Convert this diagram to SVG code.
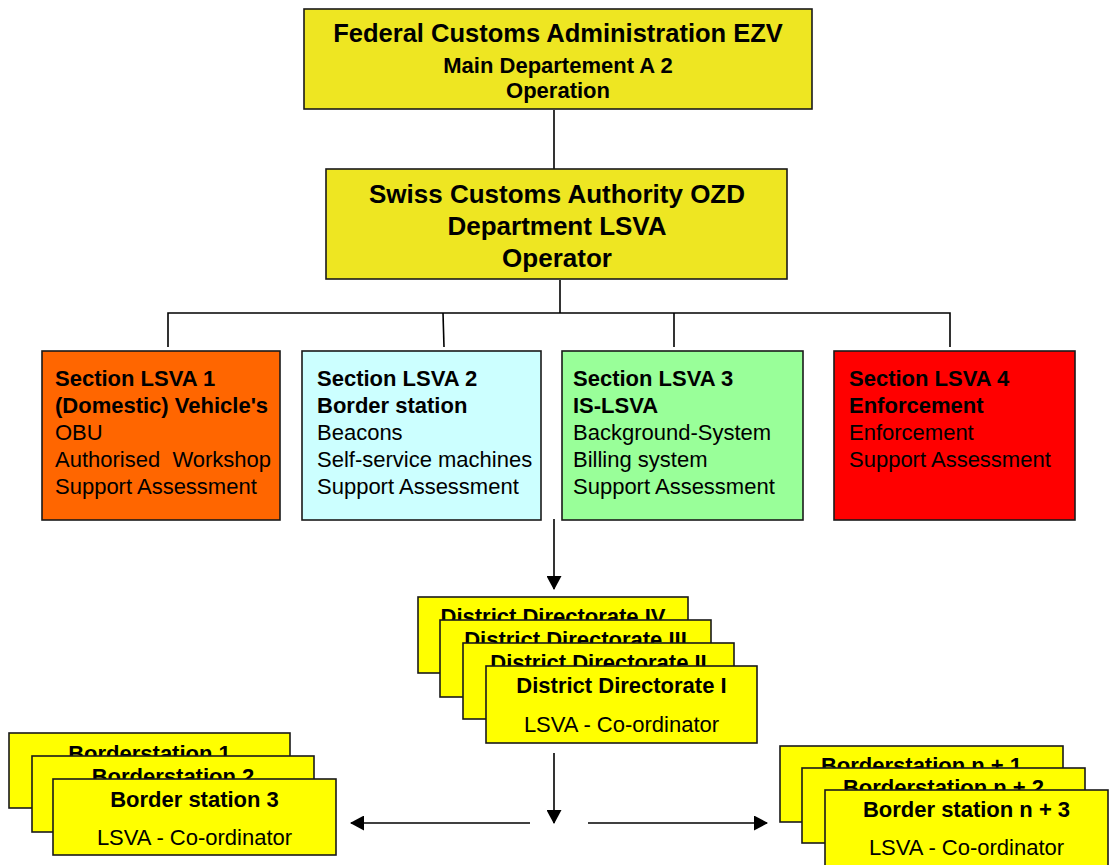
<svg xmlns="http://www.w3.org/2000/svg" width="1109" height="865" viewBox="0 0 1109 865">
<style>
text{font-family:"Liberation Sans",Arial,sans-serif;fill:#000}
.b{font-weight:bold}
.box{stroke:#1a1a1a;stroke-width:1.6}
.olive{fill:#EEE622}
.yel{fill:#FFFF00}
.ln{stroke:#000;stroke-width:1.6;fill:none}
.c{text-anchor:middle}
.t22{font-size:22px}
</style>
<defs>
<marker id="ah" markerWidth="14" markerHeight="15" refX="13" refY="7.5" orient="auto" markerUnits="userSpaceOnUse">
<path d="M0,0 L14,7.5 L0,15 Z" fill="#000"/>
</marker>
<clipPath id="cd4"><rect x="418" y="597" width="270" height="23"/></clipPath>
<clipPath id="cd3"><rect x="440" y="620" width="271" height="23"/></clipPath>
<clipPath id="cd2"><rect x="463" y="643" width="271" height="23"/></clipPath>
<clipPath id="cb1"><rect x="9" y="733" width="281" height="23"/></clipPath>
<clipPath id="cb2"><rect x="32" y="756" width="282" height="23"/></clipPath>
<clipPath id="cn1"><rect x="780" y="746" width="283" height="22"/></clipPath>
<clipPath id="cn2"><rect x="802" y="768" width="283" height="22"/></clipPath>
</defs>
<rect width="1109" height="865" fill="#fff"/>
<g id="connectors">
<line class="ln" x1="554" y1="110" x2="554" y2="169"/>
<line class="ln" x1="560" y1="280" x2="560" y2="313"/>
<polyline class="ln" points="168,347 168,313 950,313 950,347"/>
<line class="ln" x1="443" y1="313" x2="444" y2="347"/>
<line class="ln" x1="674" y1="313" x2="674" y2="347"/>
<line class="ln" x1="554" y1="519" x2="554" y2="589" marker-end="url(#ah)"/>
<line class="ln" x1="554" y1="753" x2="554" y2="823" marker-end="url(#ah)"/>
<line class="ln" x1="530" y1="823" x2="351" y2="823" marker-end="url(#ah)"/>
<line class="ln" x1="588" y1="823" x2="767" y2="823" marker-end="url(#ah)"/>
</g>
<g id="ezv">
<rect class="box olive" x="304" y="9" width="508" height="100"/>
<text class="b c" x="558" y="42" font-size="25.5">Federal Customs Administration EZV</text>
<text class="b c" x="558" y="73" font-size="22">Main Departement A 2</text>
<text class="b c" x="558" y="98" font-size="22">Operation</text>
</g>
<g id="ozd">
<rect class="box olive" x="326" y="169" width="461" height="110"/>
<text class="b c" x="557" y="203" font-size="26">Swiss Customs Authority OZD</text>
<text class="b c" x="557" y="235" font-size="26">Department LSVA</text>
<text class="b c" x="557" y="267" font-size="26">Operator</text>
</g>
<g id="section1">
<rect class="box" x="42" y="351" width="238" height="169" fill="#FF6600"/>
<text class="t22" x="55" y="386"><tspan class="b">Section LSVA 1</tspan><tspan class="b" x="55" y="413">(Domestic) Vehicle's</tspan><tspan x="55" y="440">OBU</tspan><tspan x="55" y="467" xml:space="preserve">Authorised  Workshop</tspan><tspan x="55" y="494">Support Assessment</tspan></text>
</g>
<g id="section2">
<rect class="box" x="302" y="351" width="239" height="169" fill="#CCFFFF"/>
<text class="t22" x="317" y="386"><tspan class="b">Section LSVA 2</tspan><tspan class="b" x="317" y="413">Border station</tspan><tspan x="317" y="440">Beacons</tspan><tspan x="317" y="467">Self-service machines</tspan><tspan x="317" y="494">Support Assessment</tspan></text>
</g>
<g id="section3">
<rect class="box" x="562" y="351" width="241" height="169" fill="#99FF99"/>
<text class="t22" x="573" y="386"><tspan class="b">Section LSVA 3</tspan><tspan class="b" x="573" y="413">IS-LSVA</tspan><tspan x="573" y="440">Background-System</tspan><tspan x="573" y="467">Billing system</tspan><tspan x="573" y="494">Support Assessment</tspan></text>
</g>
<g id="section4">
<rect class="box" x="834" y="351" width="241" height="169" fill="#FF0000"/>
<text class="t22" x="849" y="386"><tspan class="b">Section LSVA 4</tspan><tspan class="b" x="849" y="413">Enforcement</tspan><tspan x="849" y="440">Enforcement</tspan><tspan x="849" y="467">Support Assessment</tspan></text>
</g>
<g id="district4">
<rect class="box yel" x="418" y="597" width="270" height="76"/>
<text class="b c t22" x="553" y="624" clip-path="url(#cd4)">District Directorate IV</text>
</g>
<g id="district3">
<rect class="box yel" x="440" y="620" width="271" height="77"/>
<text class="b c t22" x="575.5" y="647" clip-path="url(#cd3)">District Directorate III</text>
</g>
<g id="district2">
<rect class="box yel" x="463" y="643" width="271" height="76"/>
<text class="b c t22" x="598.5" y="670" clip-path="url(#cd2)">District Directorate II</text>
</g>
<g id="district1">
<rect class="box yel" x="486" y="666" width="271" height="77"/>
<text class="b c t22" x="621.5" y="693">District Directorate I</text>
<text class="c t22" x="621.5" y="732">LSVA - Co-ordinator</text>
</g>
<g id="border1">
<rect class="box yel" x="9" y="733" width="281" height="75"/>
<text class="b c t22" x="149.5" y="761" clip-path="url(#cb1)">Borderstation 1</text>
</g>
<g id="border2">
<rect class="box yel" x="32" y="756" width="282" height="76"/>
<text class="b c t22" x="173" y="784" clip-path="url(#cb2)">Borderstation 2</text>
</g>
<g id="border3">
<rect class="box yel" x="53" y="779" width="283" height="76"/>
<text class="b c t22" x="194.5" y="807">Border station 3</text>
<text class="c t22" x="194.5" y="845">LSVA - Co-ordinator</text>
</g>
<g id="bordern1">
<rect class="box yel" x="780" y="746" width="283" height="76"/>
<text class="b c t22" x="921.5" y="773" clip-path="url(#cn1)">Borderstation n + 1</text>
</g>
<g id="bordern2">
<rect class="box yel" x="802" y="768" width="283" height="75"/>
<text class="b c t22" x="943.5" y="795" clip-path="url(#cn2)">Borderstation n + 2</text>
</g>
<g id="bordern3">
<rect class="box yel" x="825" y="790" width="283" height="80"/>
<text class="b c t22" x="966.5" y="817">Border station n + 3</text>
<text class="c t22" x="966.5" y="855">LSVA - Co-ordinator</text>
</g>
</svg>
